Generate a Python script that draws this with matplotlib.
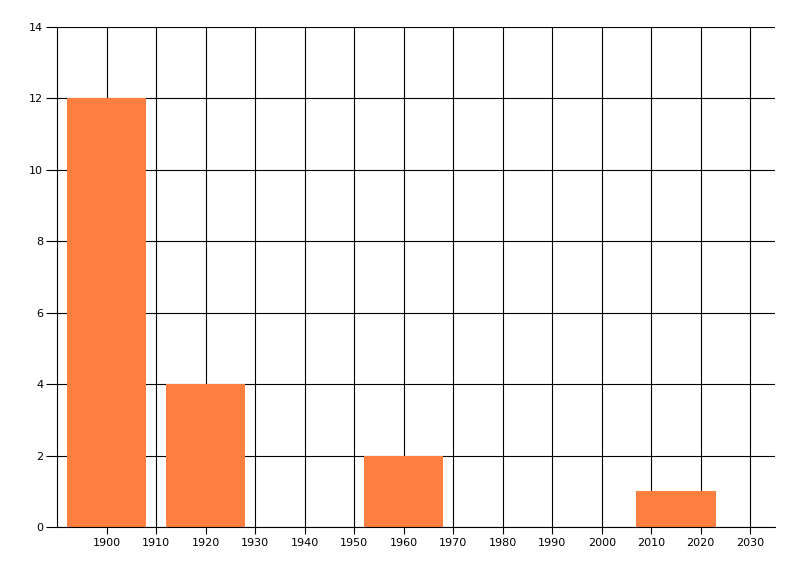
import matplotlib
matplotlib.use("Agg")
import matplotlib.pyplot as plt

years = [1900, 1920, 1960, 2015]
counts = [12, 4, 2, 1]
x_ticks = list(range(1900, 2031, 10))
y_ticks = list(range(0, 15, 2))

fig = plt.figure(figsize=(8, 5.76), dpi=100)
ax = fig.add_axes([57 / 800, 49 / 576, 718 / 800, 500 / 576])

ax.bar(years, counts, width=16, color="#FF7F40", zorder=3)

ax.set_xlim(1890, 2035)
ax.set_ylim(0, 14)
ax.set_xticks(x_ticks)
ax.set_yticks(y_ticks)
ax.grid(True, color="black", linewidth=0.8, zorder=1)
ax.set_axisbelow(True)

for side in ["top", "right"]:
    ax.spines[side].set_visible(False)
for side in ["left", "bottom"]:
    ax.spines[side].set_linewidth(0.8)
    ax.spines[side].set_zorder(4)

ax.tick_params(axis="y", length=8, width=0.8, labelsize=8, pad=2)
ax.tick_params(axis="x", length=5, width=0.8, labelsize=8, pad=3)

fig.savefig("out.png", dpi=100)
